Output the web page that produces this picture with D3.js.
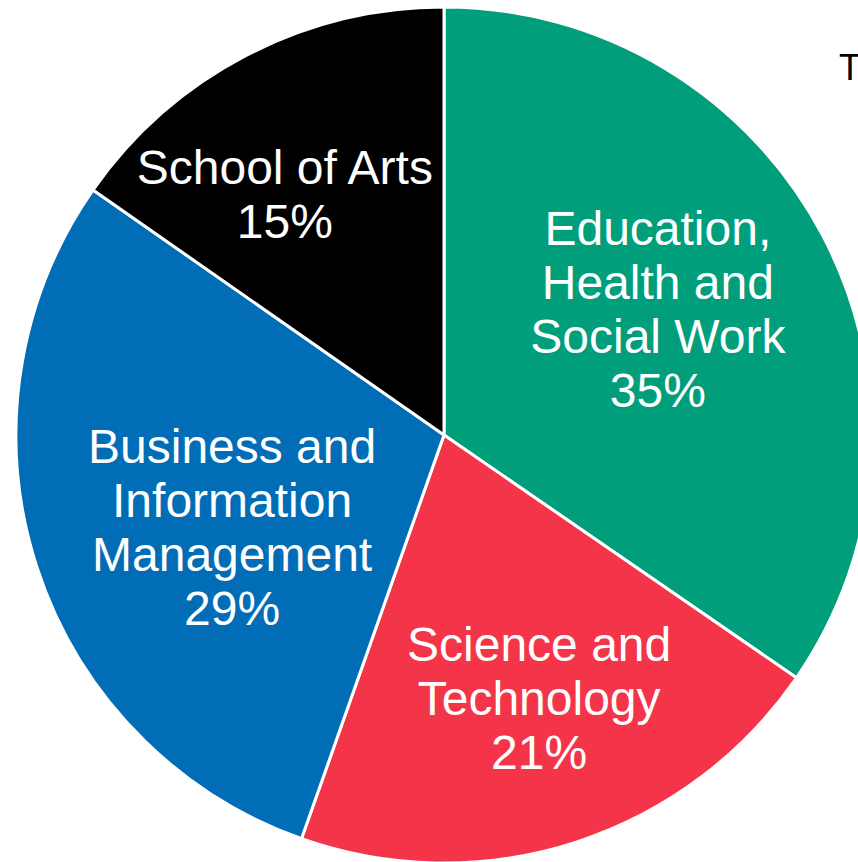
<!DOCTYPE html>
<html>
<head>
<meta charset="utf-8">
<script src="https://cdn.jsdelivr.net/npm/d3@7"></script>
<style>
    html, body { margin: 0; padding: 0; background: #ffffff; overflow: hidden; }
    svg { display: block; }
</style>
</head>
<body>
<div id="chart"></div>
<script>
// Shares (labels show them rounded)
const categories = [
    'Education, Health and Social Work',
    'Science and Technology',
    'Business and Information Management',
    'School of Arts'
];
const labelLines = [
    ['Education,', 'Health and', 'Social Work'],
    ['Science and', 'Technology'],
    ['Business and', 'Information', 'Management'],
    ['School of Arts']
];
const shares = [34.6, 20.8, 29.3, 15.3];
const titleText = 'T';

function createPie(container) {
    const width = 858;
    const height = 862;
    const cx = 444;
    const cy = 435;
    const radius = 428;
    const fontSize = 48;
    const lineHeight = 54;

    const data = categories.map((c, i) => ({
        category: c,
        lines: labelLines[i],
        value: shares[i]
    }));
    const total = d3.sum(data, d => d.value);

    const color = d3.scaleOrdinal()
        .domain(categories)
        .range(['#009e7b', '#f43448', '#006db6', '#000000']);

    // label placement: distance as share of radius, small turn off the bisector (deg)
    const labelPlace = {
        'Education, Health and Social Work': {k: 0.58, turn: -2.8},
        'Science and Technology': {k: 0.653, turn: -1.9},
        'Business and Information Management': {k: 0.54, turn: -5.7},
        'School of Arts': {k: 0.675, turn: -5.9}
    };

    const svg = d3.select(container)
        .append('svg')
        .attr('width', width)
        .attr('height', height);

    const g = svg.append('g')
        .attr('transform', `translate(${cx},${cy})`);

    const pie = d3.pie()
        .sort(null)
        .value(d => d.value);

    const arc = d3.arc()
        .innerRadius(0)
        .outerRadius(radius);

    const arcs = g.selectAll('.slice')
        .data(pie(data))
        .enter()
        .append('g')
        .attr('class', 'slice');

    arcs.append('path')
        .attr('d', arc)
        .attr('fill', d => color(d.data.category))
        .attr('stroke', 'white')
        .attr('stroke-width', 3)
        .attr('stroke-linejoin', 'round');

    arcs.append('text')
        .attr('text-anchor', 'middle')
        .attr('fill', 'white')
        .style('font-family', '"Liberation Sans", Arial, sans-serif')
        .style('font-size', fontSize + 'px')
        .each(function(d) {
            const p = labelPlace[d.data.category];
            const a = (d.startAngle + d.endAngle) / 2 + p.turn * Math.PI / 180;
            const r = p.k * radius;
            const x = r * Math.sin(a);
            const y = -r * Math.cos(a);
            const lines = d.data.lines.concat(Math.round(d.data.value / total * 100) + '%');
            const n = lines.length;
            const capH = 0.716 * fontSize;
            const firstBase = y - ((n - 1) * lineHeight - capH) / 2;
            d3.select(this).selectAll('tspan')
                .data(lines)
                .enter()
                .append('tspan')
                .attr('x', x)
                .attr('y', (t, i) => firstBase + i * lineHeight)
                .text(t => t);
        });

    // title, cut off at the right edge
    svg.append('text')
        .attr('x', 839)
        .attr('y', 80)
        .attr('fill', '#000')
        .style('font-family', '"Liberation Sans Narrow", "Liberation Sans", Arial, sans-serif')
        .style('font-size', '36px')
        .text(titleText);
}

createPie('#chart');
</script>
</body>
</html>
